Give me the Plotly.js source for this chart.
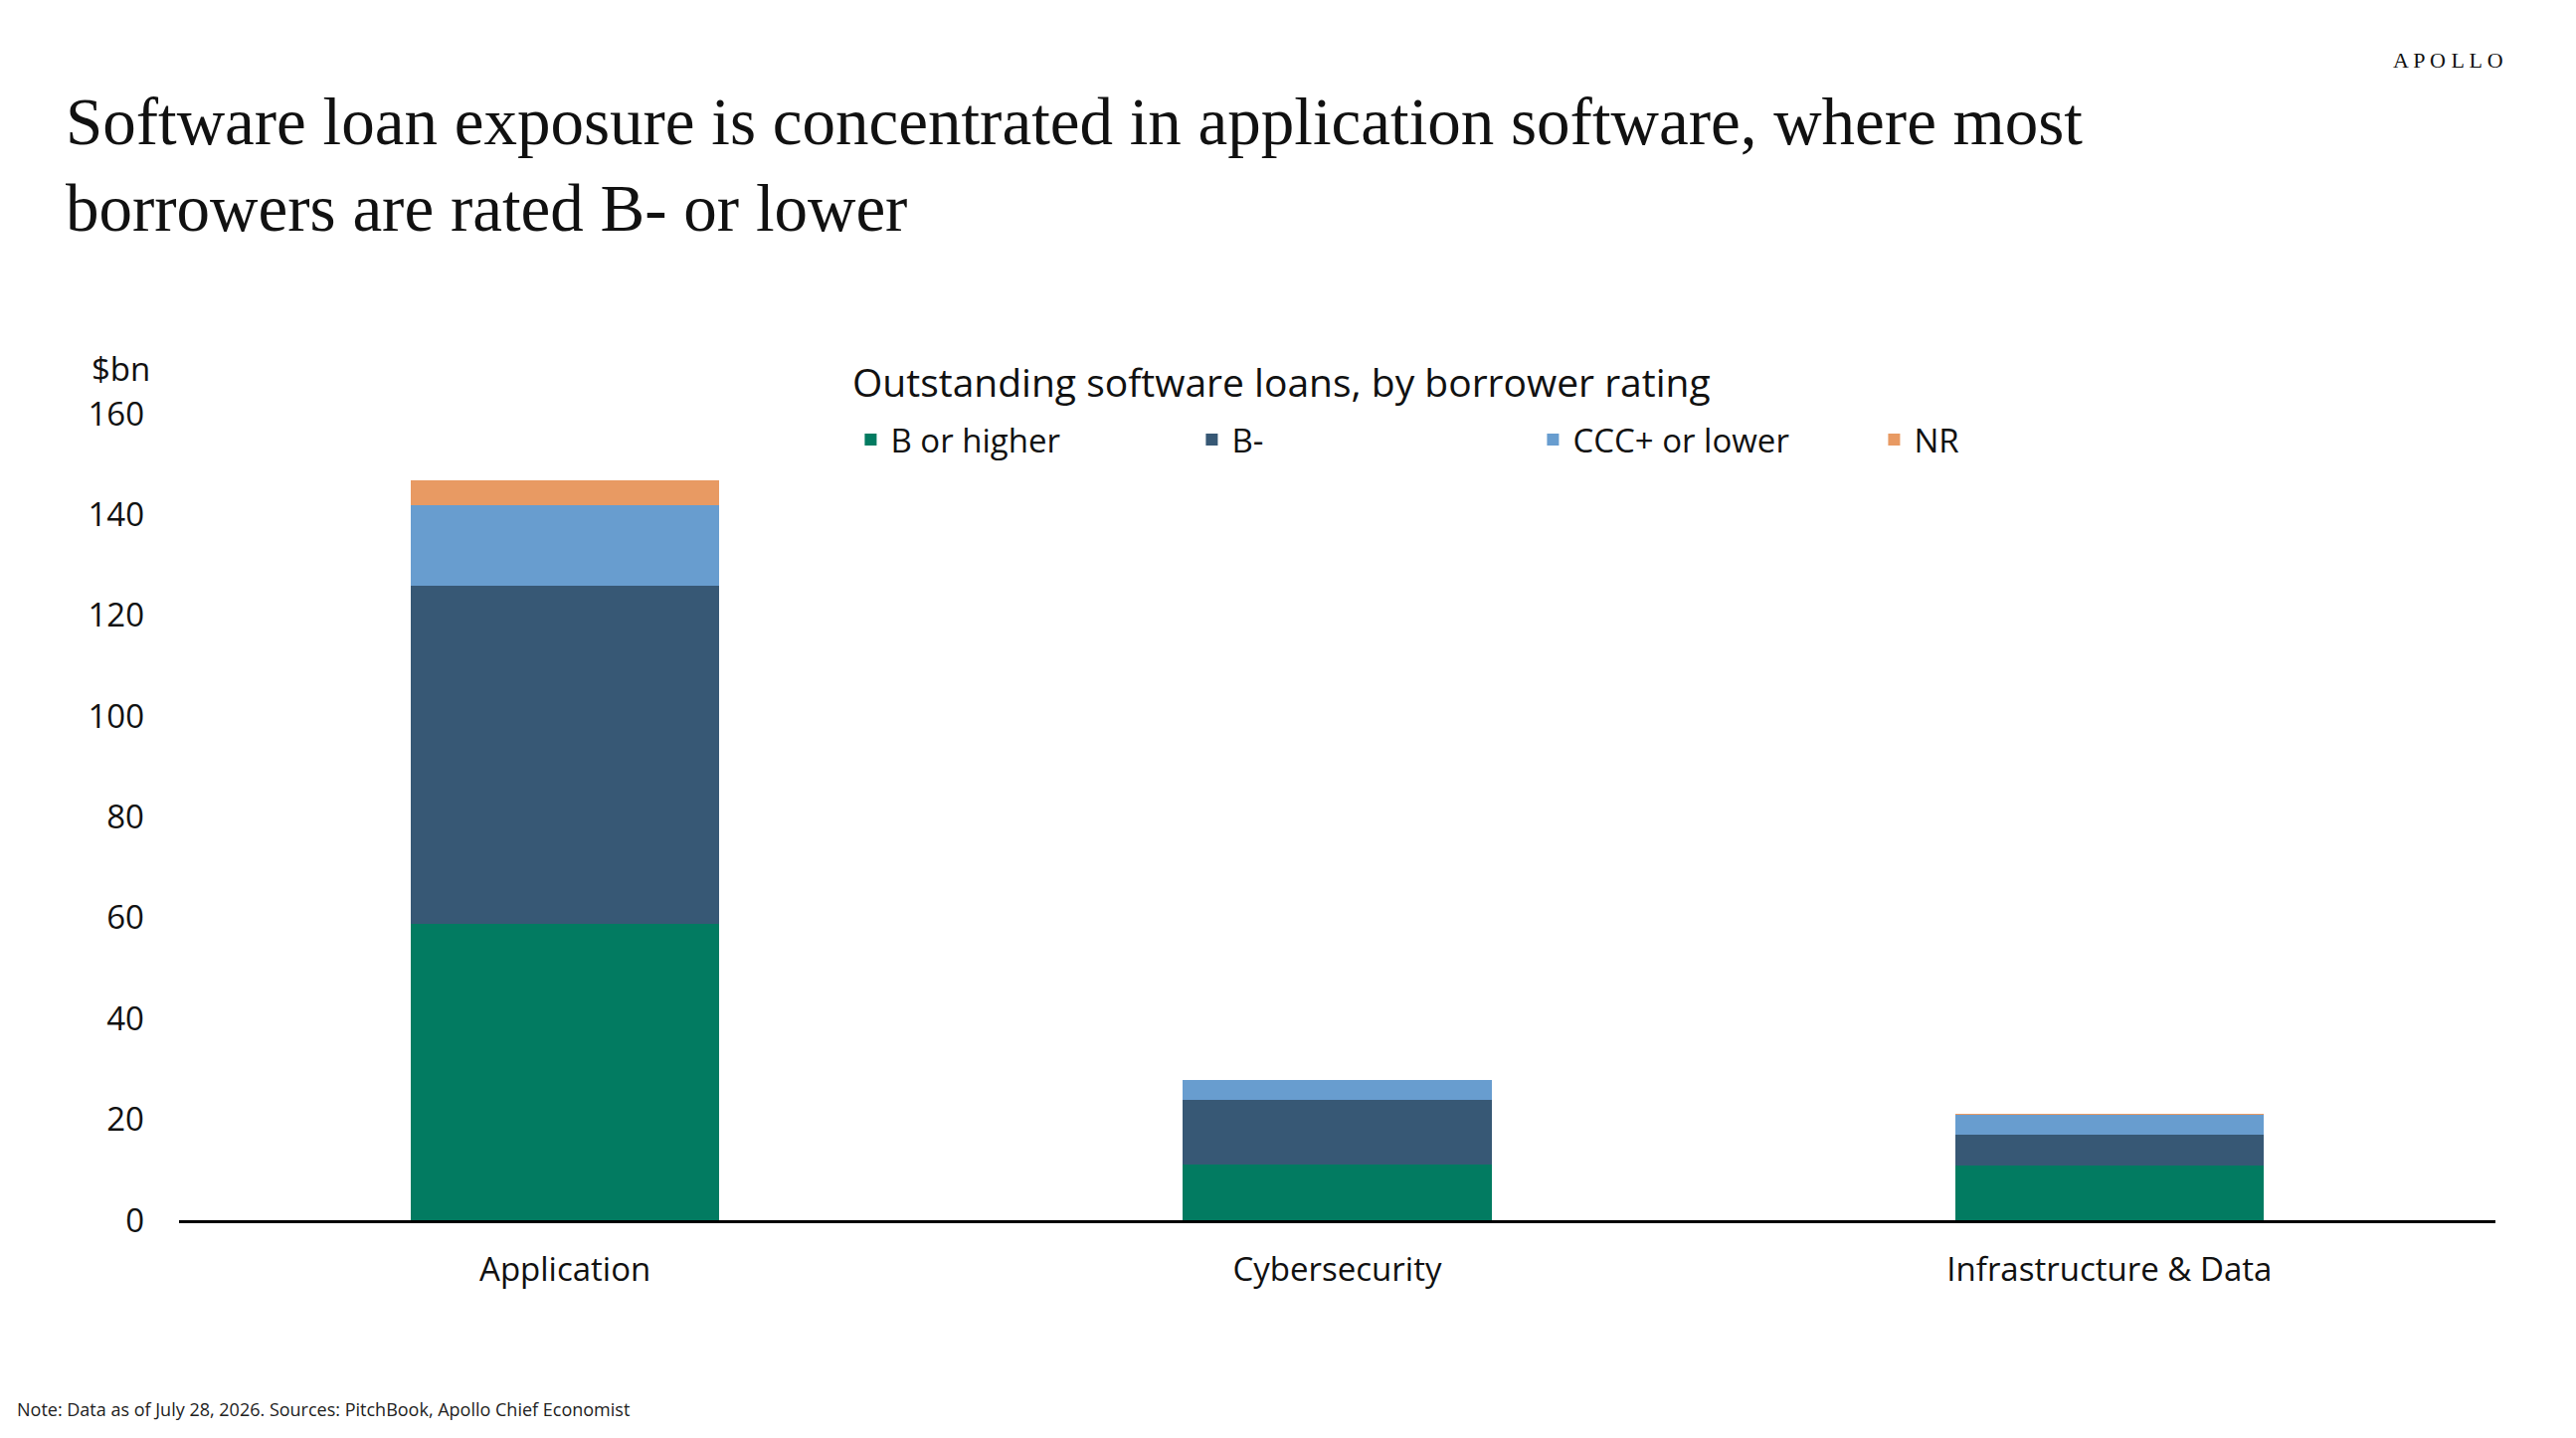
<!DOCTYPE html>
<html><head><meta charset="utf-8">
<script src="https://cdn.plot.ly/plotly-3.0.1.min.js"></script>
<style>html,body{margin:0;padding:0;background:#fff}#chart{width:2590px;height:1446px}</style>
</head><body><div id="chart"></div>
<script>
// outstanding software loans, $bn
const categories = ["Application", "Cybersecurity", "Infrastructure & Data"];
const bOrHigher = [58.7, 11.1, 10.9];
const bMinus    = [67.1, 12.8, 6.1];
const cccOrLower= [16.0, 4.0, 3.9];
const notRated  = [5.0, 0, 0.2];

const font = "Segoe UI, 'Open Sans', 'Noto Sans', sans-serif";
const mk = (name, y, color) => ({type:"bar", name, x:categories, y, marker:{color, line:{width:0}}, width:0.4});

const traces = [
  mk("B or higher", bOrHigher, "#027b61"),
  mk("B-", bMinus, "#375875"),
  mk("CCC+ or lower", cccOrLower, "#689dcf"),
  mk("NR", notRated, "#e89a63")
];

const layout = {
  width:2590, height:1446, barmode:"stack",
  paper_bgcolor:"white", plot_bgcolor:"white",
  margin:{l:180, r:81, t:416, b:219},
  font:{family:font, size:33, color:"#111"},
  xaxis:{showgrid:false, showline:true, linecolor:"#000", linewidth:3, ticks:"", tickfont:{size:33}, ticklabelstandoff:18},
  yaxis:{range:[0,160], dtick:20, showgrid:false, zeroline:false, showline:false, tickfont:{size:33}, ticklabelstandoff:34},
  showlegend:true,
  legend:{orientation:"h", x:0.29, xanchor:"left", y:0.968, yanchor:"middle", yref:"paper",
          font:{size:33}, entrywidth:298, entrywidthmode:"pixels", itemwidth:30, traceorder:"normal"},
  annotations:[
    {text:"Software loan exposure is concentrated in application software, where most<br>borrowers are rated B- or lower",
     xref:"paper", yref:"paper", x:-0.05, y:1.0, xanchor:"left", yanchor:"bottom", yshift:168, align:"left",
     showarrow:false, font:{family:"'Liberation Serif', 'DejaVu Serif', serif", size:67, color:"#111"}},
    {text:"A P O L L O", xref:"paper", yref:"paper", x:1.0, y:1.0, xanchor:"right", yanchor:"middle", yshift:356, xshift:10,
     showarrow:false, font:{family:"'Liberation Serif', serif", size:22, color:"#111"}},
    {text:"Outstanding software loans, by borrower rating", xref:"paper", yref:"paper", x:0.476, y:1.0, xanchor:"center", yanchor:"middle", yshift:33,
     showarrow:false, font:{size:39, color:"#111"}},
    {text:"$bn", xref:"paper", yref:"paper", x:-0.025, y:1.0, xanchor:"center", yanchor:"middle", yshift:46,
     showarrow:false, font:{size:33, color:"#111"}},
    {text:"Note: Data as of July 28, 2026. Sources: PitchBook, Apollo Chief Economist", xref:"paper", yref:"paper", x:-0.071, y:0, xanchor:"left", yanchor:"middle", yshift:-190,
     showarrow:false, font:{size:18, color:"#222"}}
  ]
};

Plotly.newPlot("chart", traces, layout, {displayModeBar:false, staticPlot:true});
</script></body></html>
